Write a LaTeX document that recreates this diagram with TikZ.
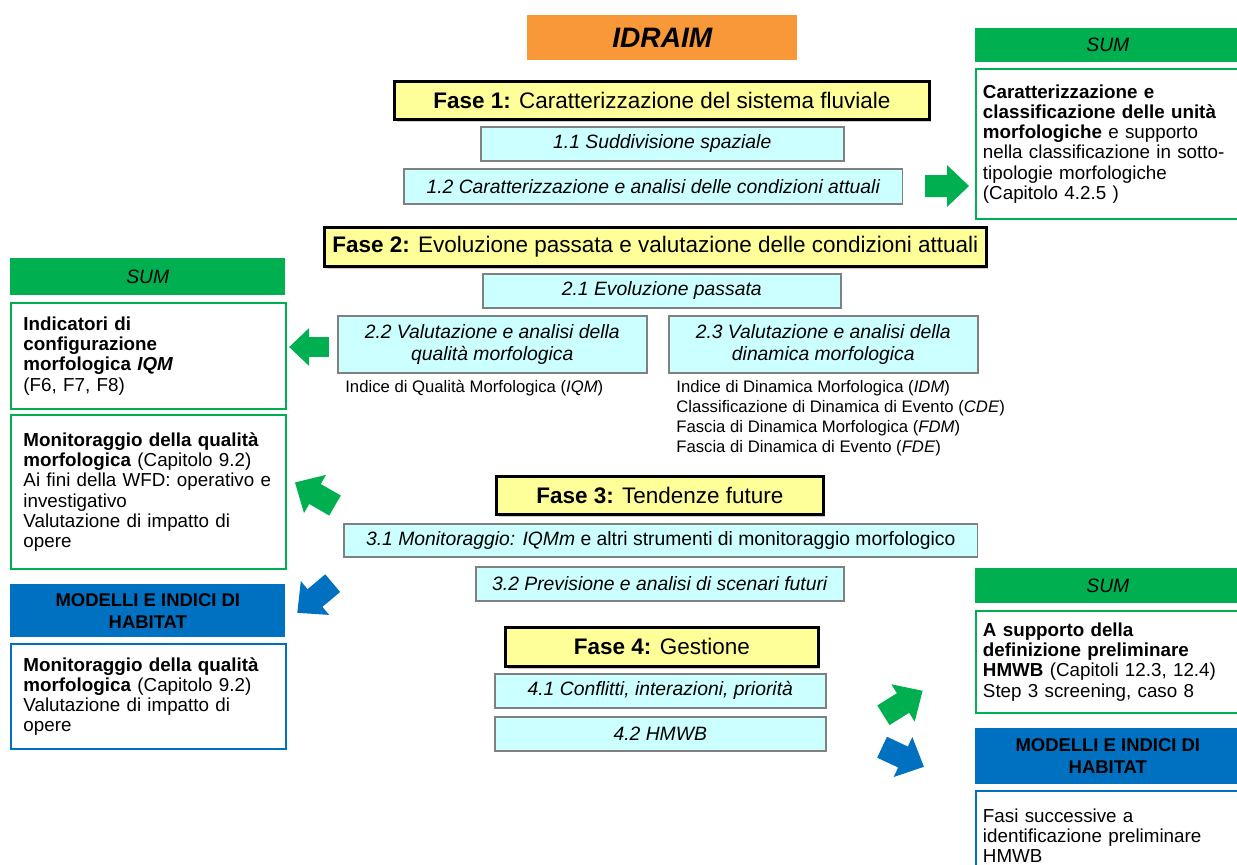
\documentclass[tikz,border=0pt]{standalone}
\usepackage{fontspec}
\setmainfont{Liberation Sans}
\usetikzlibrary{shadows}

\definecolor{idraimorange}{RGB}{248,152,56}
\definecolor{faseyellow}{RGB}{255,255,153}
\definecolor{subcyan}{RGB}{204,255,255}
\definecolor{subgray}{RGB}{128,128,128}
\definecolor{sumgreen}{RGB}{0,176,80}
\definecolor{habblue}{RGB}{0,112,192}

\tikzset{
  fasebox/.style={draw=black, line width=1.6pt, fill=faseyellow, anchor=north west, inner sep=0pt,
    font=\fontsize{12.8}{15}\selectfont,
    drop shadow={shadow xshift=1.2pt, shadow yshift=-1.2pt, fill=black!40}},
  subbox/.style={draw=subgray, line width=0.9pt, fill=subcyan, anchor=north west, inner sep=0pt,
    align=center, font=\fontsize{11}{12.5}\selectfont\itshape},
  notetext/.style={anchor=north west, inner sep=0pt, align=left, font=\fontsize{9.5}{11.4}\selectfont},
  headbox/.style={anchor=north west, inner sep=0pt, align=center, font=\fontsize{11}{12.5}\selectfont},
  sidebox/.style={anchor=north west, fill=white, line width=1.1pt, align=left,
    font=\fontsize{10.7}{11.5}\selectfont},
  leftside/.style={sidebox, text width=5.0cm, inner xsep=0.25cm, inner ysep=0pt},
  rightside/.style={sidebox, text width=5.02cm, inner xsep=0.14cm, inner ysep=0pt},
  fatarrow/.pic={\fill (-22,-11) -- (0,-11) -- (0,-21) -- (22,0) -- (0,21) -- (0,11) -- (-22,11) -- cycle;}
}

\begin{document}
\begin{tikzpicture}[x=0.02cm, y=-0.02cm]
\useasboundingbox (0,0) rectangle (1237,865);
\clip (0,0) rectangle (1237,865);

% Title
\node[fill=idraimorange, anchor=north west, minimum width=5.4cm, minimum height=0.9cm, inner sep=0pt,
  font=\fontsize{16}{18}\selectfont\bfseries\itshape] (idraim) at (527,15) {IDRAIM};

% Fase 1
\node[fasebox, minimum width=10.7cm, minimum height=0.76cm] (fase1) at (393,80) {\textbf{Fase 1:} Caratterizzazione del sistema fluviale};
\node[subbox, minimum width=7.26cm, minimum height=0.68cm] (sub11) at (480,126) {1.1 Suddivisione spaziale};
\node[subbox, minimum width=9.98cm, minimum height=0.7cm] (sub12) at (403,168) {1.2 Caratterizzazione e analisi delle condizioni attuali};

% Fase 2
\node[fasebox, minimum width=13.24cm, minimum height=0.78cm] (fase2) at (323,226) {\textbf{Fase 2:} Evoluzione passata e valutazione delle condizioni attuali};
\node[subbox, minimum width=7.16cm, minimum height=0.68cm] (sub21) at (482,273) {2.1 Evoluzione passata};
\node[subbox, minimum width=6.18cm, minimum height=1.14cm] (sub22) at (337,315) {2.2 Valutazione e analisi della\\qualità morfologica};
\node[subbox, minimum width=6.18cm, minimum height=1.14cm] (sub23) at (668,315) {2.3 Valutazione e analisi della\\dinamica morfologica};
\node[notetext] (note22) at (345,380) {Indice di Qualità Morfologica (\textit{IQM})};
\node[notetext] (note23) at (676,380) {Indice di Dinamica Morfologica (\textit{IDM})\\
  Classificazione di Dinamica di Evento (\textit{CDE})\\
  Fascia di Dinamica Morfologica (\textit{FDM})\\
  Fascia di Dinamica di Evento (\textit{FDE})};

% Fase 3
\node[fasebox, minimum width=6.54cm, minimum height=0.76cm] (fase3) at (495,475) {\textbf{Fase 3:} Tendenze future};
\node[subbox, minimum width=12.68cm, minimum height=0.66cm] (sub31) at (343,523) {3.1 Monitoraggio: IQMm {\upshape e altri strumenti di monitoraggio morfologico}};
\node[subbox, minimum width=7.36cm, minimum height=0.68cm] (sub32) at (475,566) {3.2 Previsione e analisi di scenari futuri};

% Fase 4
\node[fasebox, minimum width=6.26cm, minimum height=0.78cm] (fase4) at (504,626) {\textbf{Fase 4:} Gestione};
\node[subbox, minimum width=6.62cm, minimum height=0.68cm] (sub41) at (494,673) {4.1 Conflitti, interazioni, priorità};
\node[subbox, minimum width=6.62cm, minimum height=0.68cm] (sub42) at (494,716) {4.2 HMWB};

% SUM, right top
\node[headbox, fill=sumgreen, minimum width=5.3cm, minimum height=0.68cm] (sumR1) at (975,28) {\itshape SUM};
\node[rightside, draw=sumgreen, minimum height=3.0cm] (boxR1) at (975,68) {\textbf{Caratterizzazione e}\\
  \textbf{classificazione delle unità}\\
  \textbf{morfologiche} e supporto\\
  nella classificazione in sotto-\\
  tipologie morfologiche\\
  (Capitolo 4.2.5 )};

% SUM, left
\node[headbox, fill=sumgreen, minimum width=5.5cm, minimum height=0.74cm] (sumL) at (10,258) {\itshape SUM};
\node[leftside, draw=sumgreen, minimum height=2.12cm] (boxL1) at (10,302) {\textbf{Indicatori di}\\
  \textbf{configurazione}\\
  \textbf{morfologica \textit{IQM}}\\
  (F6, F7, F8)};
\node[leftside, draw=sumgreen, minimum height=3.08cm] (boxL2) at (10,414) {\textbf{Monitoraggio della qualità}\\
  \textbf{morfologica} (Capitolo 9.2)\\
  Ai fini della WFD: operativo e\\
  investigativo\\
  Valutazione di impatto di\\
  opere};

% habitat, left
\node[headbox, fill=habblue, minimum width=5.5cm, minimum height=1.06cm, font=\fontsize{10.5}{12.5}\selectfont\bfseries] (habL) at (10,584) {MODELLI E INDICI DI\\HABITAT};
\node[leftside, draw=habblue, minimum height=2.1cm] (boxL3) at (10,643) {\textbf{Monitoraggio della qualità}\\
  \textbf{morfologica} (Capitolo 9.2)\\
  Valutazione di impatto di\\
  opere};

% SUM, right bottom
\node[headbox, fill=sumgreen, minimum width=5.3cm, minimum height=0.7cm] (sumR2) at (975,568) {\itshape SUM};
\node[rightside, draw=sumgreen, minimum height=2.04cm] (boxR2) at (975,610) {\textbf{A supporto della}\\
  \textbf{definizione preliminare}\\
  \textbf{HMWB} (Capitoli 12.3, 12.4)\\
  Step 3 screening, caso 8};

% habitat, right
\node[headbox, fill=habblue, minimum width=5.3cm, minimum height=1.12cm, font=\fontsize{10.5}{12.5}\selectfont\bfseries] (habR) at (975,728) {MODELLI E INDICI DI\\HABITAT};
\node[rightside, draw=habblue, minimum height=1.8cm] (boxR3) at (975,790) {Fasi successive a\\
  identificazione preliminare\\
  HMWB};

% Block arrows
\pic[color=sumgreen] (arrR1) at (947,186) {fatarrow};
\pic[color=sumgreen, rotate=180, scale=0.9] (arrL1) at (309,347) {fatarrow};
\pic[color=sumgreen, rotate=150, scale=1.05] (arrL2) at (315,494) {fatarrow};
\pic[color=habblue, rotate=220, scale=1.05] (arrL3) at (315,598) {fatarrow};
\pic[color=sumgreen, rotate=32, scale=1.05] (arrR2) at (903,703) {fatarrow};
\pic[color=habblue, rotate=-25, scale=1.05] (arrR3) at (903,757) {fatarrow};
\end{tikzpicture}
\end{document}
